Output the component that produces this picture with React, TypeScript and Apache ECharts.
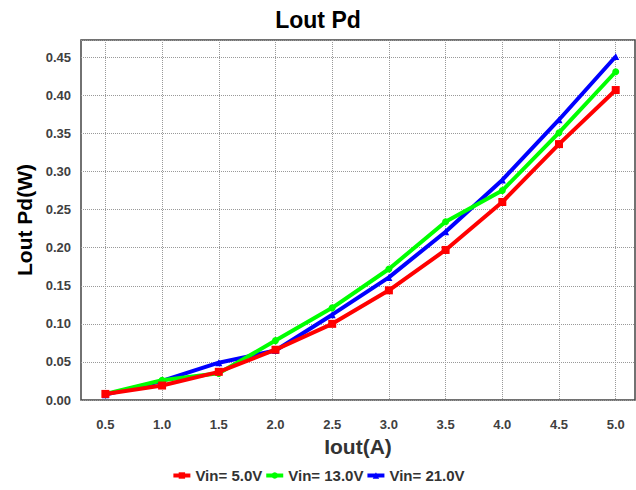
import React, { useEffect, useRef } from "react";
import * as echarts from "echarts";

const xValues = [0.5, 1.0, 1.5, 2.0, 2.5, 3.0, 3.5, 4.0, 4.5, 5.0];
const vin5 = [0.008, 0.019, 0.037, 0.066, 0.100, 0.144, 0.197, 0.260, 0.336, 0.407];
const vin13 = [0.008, 0.026, 0.035, 0.078, 0.121, 0.172, 0.234, 0.275, 0.351, 0.431];
const vin21 = [0.007, 0.025, 0.049, 0.065, 0.112, 0.161, 0.221, 0.289, 0.368, 0.451];
const seriesNames = ["Vin= 5.0V", "Vin= 13.0V", "Vin= 21.0V"];
const xTicks = [0.5, 1.0, 1.5, 2.0, 2.5, 3.0, 3.5, 4.0, 4.5, 5.0];

const FONT = "'Liberation Sans', Arial, sans-serif";

export default function App() {
  const ref = useRef<HTMLDivElement>(null);
  useEffect(() => {
    if (!ref.current) return;
    const chart = echarts.init(ref.current, null, { renderer: "svg" });
    const pair = (ys: number[]) => xValues.map((x, i) => [x, ys[i]]);
    const mk = (name: string, ys: number[], color: string, symbol: string, z: number) => ({
      name,
      type: "line",
      data: pair(ys),
      symbol,
      symbolSize: symbol === "rect" ? 8 : 7,
      z,
      lineStyle: { width: 4, color },
      itemStyle: { color },
    });
    chart.setOption({
      animation: false,
      backgroundColor: "#ffffff",
      title: {
        text: "Lout Pd",
        left: "center",
        top: 3,
        textStyle: { fontFamily: FONT, fontWeight: "bold", fontSize: 23, color: "#000" },
      },
      grid: {
        left: 81,
        right: 1,
        top: 40,
        bottom: 90,
        show: true,
        borderColor: "#444",
        borderWidth: 1.5,
        containLabel: false,
      },
      legend: {
        bottom: 2,
        left: "center",
        itemWidth: 17,
        itemHeight: 8,
        itemGap: 2,
        lineStyle: { width: 4 },
        textStyle: { fontFamily: FONT, fontWeight: "bold", fontSize: 15, color: "#333" },
        data: seriesNames,
      },
      xAxis: {
        type: "value",
        min: 0.285,
        max: 5.17,
        name: "Iout(A)",
        nameLocation: "middle",
        nameGap: 34,
        nameTextStyle: { fontFamily: FONT, fontWeight: "bold", fontSize: 21, color: "#333" },
        axisLine: { show: false },
        axisTick: { show: false, customValues: xTicks },
        axisLabel: {
          customValues: xTicks,
          formatter: (v: number) => v.toFixed(1),
          fontFamily: FONT,
          fontWeight: "bold",
          fontSize: 13,
          color: "#404040",
          margin: 18,
        },
        splitLine: { show: true, lineStyle: { type: "dotted", color: "#999", width: 1 } },
      },
      yAxis: {
        type: "value",
        min: 0,
        max: 0.4727,
        interval: 0.05,
        name: "Lout Pd(W)",
        nameLocation: "middle",
        nameGap: 42,
        nameTextStyle: { fontFamily: FONT, fontWeight: "bold", fontSize: 21, color: "#000" },
        axisLine: { show: false },
        axisTick: { show: false },
        axisLabel: {
          showMaxLabel: false,
          formatter: (v: number) => v.toFixed(2),
          fontFamily: FONT,
          fontWeight: "bold",
          fontSize: 13,
          color: "#404040",
          margin: 10,
        },
        splitLine: { show: true, lineStyle: { type: "dotted", color: "#999", width: 1 } },
      },
      series: [
        mk(seriesNames[0], vin5, "#ff0000", "rect", 5),
        mk(seriesNames[1], vin13, "#00ff00", "circle", 4),
        mk(seriesNames[2], vin21, "#0000ff", "triangle", 3),
      ],
    });
    return () => chart.dispose();
  }, []);
  return (
    <div
      ref={ref}
      style={{ position: "fixed", left: 0, top: 0, width: 636, height: 490, background: "#fff" }}
    />
  );
}
